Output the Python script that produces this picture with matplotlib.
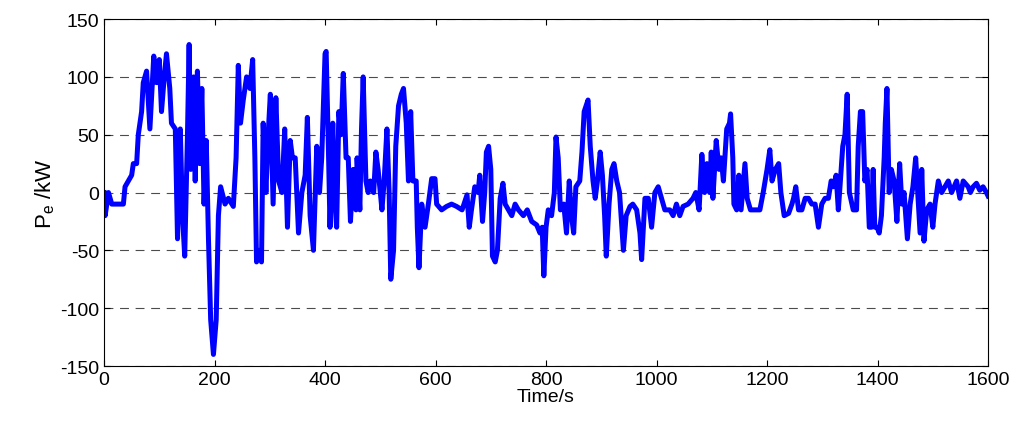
import matplotlib
matplotlib.use("Agg")
import matplotlib.pyplot as plt

t = [0,2,8,14,35,38,44,50,53,59,62,68,71,77,83,88,90,95,100,104,109,113,119,122,129,133,138,142,146,151,154,157,162,165,169,173,177,181,185,189,193,198,203,207,211,219,225,234,239,243,247,252,258,264,269,273,276,281,285,288,293,297,301,306,311,316,322,327,332,337,341,346,352,358,364,368,373,379,385,390,394,400,
     402,406,409,414,418,421,425,429,433,438,442,446,451,456,458,463,466,469,474,478,482,488,492,496,503,507,512,516,519,524,528,533,538,542,547,551,555,559,565,567,570,575,581,587,593,599,602,611,620,629,638,648,657,661,665,671,677,680,685,689,692,696,700,703,708,712,717,722,726,732,738,744,750,759,766,774,783,789,793,796,
     800,804,810,815,818,822,826,832,837,842,846,850,854,861,865,869,876,880,885,889,893,898,902,906,909,914,919,923,928,933,940,945,952,957,964,970,973,979,985,991,997,1003,1009,1015,1024,1030,1036,1042,1048,1057,1066,1071,1077,1082,1087,1091,1096,1099,1102,1108,1113,1117,1121,1127,1132,1134,1138,1140,1145,1149,1153,1160,1164,1170,1181,1187,1193,
     1200,1205,1209,1215,1221,1225,1231,1239,1245,1248,1252,1257,1263,1269,1275,1281,1287,1293,1299,1305,1311,1316,1320,1325,1329,1332,1337,1341,1345,1349,1356,1362,1365,1369,1373,1377,1381,1385,1389,1392,1395,1399,1403,1407,1412,1414,1417,1421,1425,1430,1435,1440,1444,1448,1454,1459,1464,1469,1474,1477,1480,1484,1489,1495,1500,1504,1510,1516,1522,1528,1534,1543,1549,1555,1564,1568,1573,1579,1585,1591,1597,1600]
p = [0,-20,0,-10,-10,5,10,15,25,25,50,70,95,105,55,100,118,95,115,70,100,120,90,60,55,-40,55,-20,-55,50,128,20,100,10,105,25,90,-10,45,-40,-110,-140,-110,-20,5,-10,-5,-12,30,110,60,80,100,90,115,30,-60,-50,-60,60,0,50,85,-10,82,10,0,55,-30,45,30,30,-35,0,15,65,-20,-50,40,0,30,120,
     122,40,-30,60,-10,-30,70,50,103,30,30,-25,20,-15,30,-15,55,100,10,0,10,0,35,20,-15,10,55,0,-75,-50,40,75,85,90,60,10,70,10,10,-30,-65,-10,-30,-10,12,12,-10,-15,-12,-10,-12,-15,-2,-30,-15,5,0,15,-25,0,35,40,20,-55,-60,-50,-5,8,-10,-15,-20,-10,-15,-20,-15,-25,-28,-35,-30,-72,
     -30,-15,-20,0,48,30,-15,-10,-35,10,-20,-35,5,10,35,70,80,40,10,-5,10,35,15,-20,-55,-10,20,25,10,0,-50,-20,-12,-10,-15,-35,-58,-5,-5,-30,0,5,-5,-15,-15,-20,-10,-20,-12,-10,-5,0,-15,33,0,25,0,35,-5,45,20,30,10,55,60,68,30,-10,-15,15,-15,25,-5,-15,-15,-15,0,
     20,37,10,20,25,0,-20,-18,-10,-5,5,-15,-15,-5,-5,-10,-10,-30,-10,-5,-5,10,5,15,-15,5,40,50,85,0,-15,-15,40,70,70,10,20,-30,-30,20,-30,-30,-35,-20,30,60,90,0,20,10,-25,25,-10,0,-40,-10,5,30,-10,-35,20,-42,-15,-10,-30,-10,10,0,5,10,0,10,-5,10,5,0,5,8,2,5,0,-3]

xticks = [0, 200, 400, 600, 800, 1000, 1200, 1400, 1600]
yticks = [-150, -100, -50, 0, 50, 100, 150]

plt.rcParams['font.family'] = ['Liberation Sans', 'DejaVu Sans']
plt.rcParams['mathtext.fontset'] = 'custom'
plt.rcParams['mathtext.rm'] = 'Liberation Sans'
plt.rcParams['mathtext.it'] = 'Liberation Sans'
plt.rcParams['axes.unicode_minus'] = False

fig = plt.figure(figsize=(10.24, 4.27), dpi=100)
ax = fig.add_axes([0.1016, 0.1405, 0.8633, 0.8125])
ax.plot(t, p, color='#0000ff', lw=3.6, solid_joinstyle='round')
ax.set_xlim(0, 1600)
ax.set_ylim(-150, 150)
ax.set_xticks(xticks)
ax.set_yticks(yticks)
ax.yaxis.grid(True, color='black', linestyle=(0, (8, 6)), lw=0.8, alpha=0.7)
ax.tick_params(labelsize=14, direction='in', top=True, right=True, length=4)
ax.set_xlabel('Time/s', fontsize=14, labelpad=0)
ax.set_ylabel('P$_e$ /kW', fontsize=16, labelpad=2)
for s in ax.spines.values():
    s.set_linewidth(0.8)
fig.savefig('out.png', dpi=100)
